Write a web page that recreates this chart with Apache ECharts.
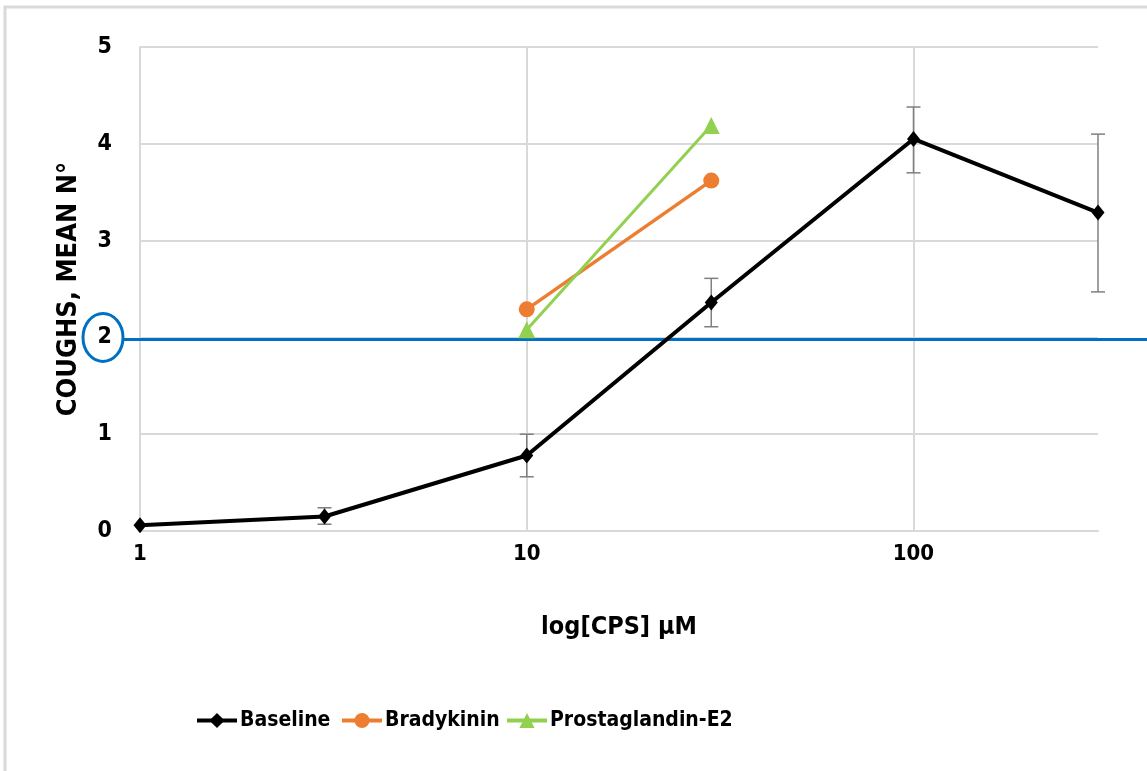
<!DOCTYPE html>
<html>
<head>
<meta charset="utf-8">
<title>Coughs vs CPS</title>
<script src="https://cdn.jsdelivr.net/npm/echarts@6/dist/echarts.min.js"></script>
<style>
  html, body { margin: 0; padding: 0; background: #fff; }
  #chart { width: 1147px; height: 771px; }
</style>
</head>
<body>
<div id="chart"></div>
<script>
// concentrations (log axis) and mean cough counts
var baselineX = [1, 3, 10, 30, 100, 300];
var baselineY = [0.06, 0.15, 0.78, 2.36, 4.05, 3.29];
var baselineLow = [0.06, 0.07, 0.56, 2.11, 3.70, 2.47];
var baselineHigh = [0.06, 0.24, 1.00, 2.61, 4.38, 4.10];

var bradyX = [10, 30];
var bradyY = [2.29, 3.62];

var pgeX = [10, 30];
var pgeY = [2.08, 4.19];

var threshold = 2;
var decadeTicks = [10, 100];

var FONT = '"DejaVu Sans Condensed", "Liberation Sans", sans-serif';

function pairs(xs, ys) {
    var out = [];
    for (var i = 0; i < xs.length; i++) out.push([xs[i], ys[i]]);
    return out;
}

var errData = [];
for (var i = 0; i < baselineX.length; i++) {
    if (baselineHigh[i] > baselineLow[i]) errData.push([baselineX[i], baselineLow[i], baselineHigh[i]]);
}

var gridLines = decadeTicks.map(function (v) { return { xAxis: v }; });

// one legend per item so each can sit where the original has it
function legendAt(left, name) {
    return {
        data: [name],
        left: left,
        top: 705,
        itemWidth: 40,
        itemHeight: 19,
        itemGap: 0,
        lineStyle: { width: 4 },
        textStyle: { fontFamily: FONT, fontWeight: 'bold', fontSize: 21, color: '#000', padding: [0, 0, 0, -2] }
    };
}

var chart = echarts.init(document.getElementById('chart'));

var option = {
    backgroundColor: '#fff',
    animation: false,
    graphic: [{
        type: 'rect',
        shape: { x: 5, y: 7, width: 1170, height: 800 },
        style: { fill: null, stroke: '#d9d9d9', lineWidth: 3 },
        silent: true,
        z: -10
    }],
    grid: { left: 140, right: 49, top: 47, bottom: 240 },
    legend: [
        legendAt(190, 'Baseline'),
        legendAt(335, 'Bradykinin'),
        legendAt(500, 'Prostaglandin-E2')
    ],
    xAxis: {
        type: 'log',
        logBase: 10,
        min: 1,
        max: 300,
        name: 'log[CPS] µM',
        nameLocation: 'middle',
        nameGap: 84,
        nameTextStyle: { fontFamily: FONT, fontWeight: 'bold', fontSize: 25, color: '#000' },
        axisLine: { show: true, lineStyle: { color: '#d9d9d9', width: 2 } },
        axisTick: { show: false },
        axisLabel: {
            fontFamily: FONT, fontWeight: 'bold', fontSize: 22, color: '#000', margin: 12,
            showMaxLabel: false
        },
        splitLine: { show: false },
        minorTick: { show: false }
    },
    yAxis: {
        type: 'value',
        min: 0,
        max: 5,
        interval: 1,
        name: 'COUGHS, MEAN N°',
        nameLocation: 'middle',
        nameGap: 58,
        nameTextStyle: { fontFamily: FONT, fontWeight: 'bold', fontSize: 27, color: '#000' },
        axisLine: { show: true, lineStyle: { color: '#d9d9d9', width: 2 } },
        axisTick: { show: false },
        axisLabel: { fontFamily: FONT, fontWeight: 'bold', fontSize: 23, color: '#000', margin: 28 },
        splitLine: { show: true, lineStyle: { color: '#d9d9d9', width: 2 } }
    },
    series: [
        {
            // threshold line at 2 coughs, drawn past the plot area, with the circled tick label
            type: 'custom',
            name: 'threshold',
            data: [[1, threshold]],
            encode: { x: 0, y: 1 },
            clip: false,
            silent: true,
            z: 1,
            renderItem: function (params, api) {
                var p = api.coord([api.value(0), api.value(1)]);
                return {
                    type: 'group',
                    children: [
                        {
                            type: 'line',
                            shape: { x1: p[0] - 17, y1: p[1] + 2, x2: api.getWidth() + 10, y2: p[1] + 2 },
                            style: { stroke: '#0070c0', lineWidth: 3 }
                        },
                        {
                            type: 'ellipse',
                            shape: { cx: p[0] - 37, cy: p[1], rx: 20, ry: 24 },
                            style: { fill: null, stroke: '#0070c0', lineWidth: 3 }
                        }
                    ]
                };
            }
        },
        {
            type: 'custom',
            name: 'Baseline error',
            data: errData,
            encode: { x: 0, y: [1, 2] },
            silent: true,
            z: 2,
            renderItem: function (params, api) {
                var lo = api.coord([api.value(0), api.value(1)]);
                var hi = api.coord([api.value(0), api.value(2)]);
                var w = 7;
                var st = { stroke: '#7f7f7f', lineWidth: 1.5 };
                return {
                    type: 'group',
                    children: [
                        { type: 'line', shape: { x1: lo[0], y1: lo[1], x2: hi[0], y2: hi[1] }, style: st },
                        { type: 'line', shape: { x1: lo[0] - w, y1: lo[1], x2: lo[0] + w, y2: lo[1] }, style: st },
                        { type: 'line', shape: { x1: hi[0] - w, y1: hi[1], x2: hi[0] + w, y2: hi[1] }, style: st }
                    ]
                };
            }
        },
        {
            type: 'line',
            name: 'Baseline',
            data: pairs(baselineX, baselineY),
            color: '#000',
            symbol: 'diamond',
            symbolSize: [13, 16],
            lineStyle: { color: '#000', width: 4 },
            itemStyle: { color: '#000' },
            z: 5,
            // vertical gridlines at the decades only
            markLine: {
                silent: true,
                symbol: 'none',
                label: { show: false },
                lineStyle: { color: '#d9d9d9', width: 2, type: 'solid' },
                z: 0,
                data: gridLines
            }
        },
        {
            type: 'line',
            name: 'Bradykinin',
            data: pairs(bradyX, bradyY),
            color: '#ed7d31',
            symbol: 'circle',
            symbolSize: 16,
            lineStyle: { color: '#ed7d31', width: 3.5 },
            itemStyle: { color: '#ed7d31' },
            z: 4
        },
        {
            type: 'line',
            name: 'Prostaglandin-E2',
            data: pairs(pgeX, pgeY),
            color: '#92d050',
            symbol: 'triangle',
            symbolSize: 17,
            lineStyle: { color: '#92d050', width: 3 },
            itemStyle: { color: '#92d050' },
            z: 4
        }
    ]
};

chart.setOption(option);
</script>
</body>
</html>
